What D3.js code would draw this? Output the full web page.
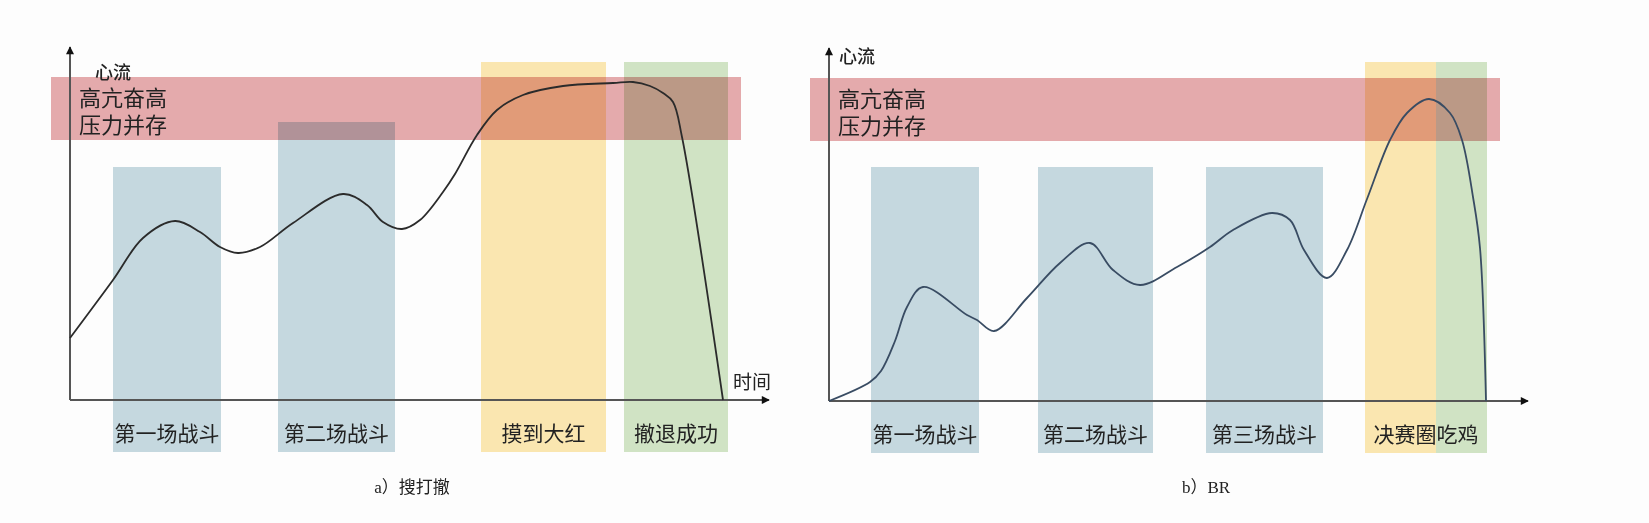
<!DOCTYPE html>
<html><head><meta charset="utf-8">
<script src="https://cdn.jsdelivr.net/npm/d3@7"></script>
<style>body{margin:0;background:#fdfdfd} svg{display:block}</style>
</head><body><svg id="c" width="1649" height="523"></svg>
<script>
// ---- data (time units along x, flow units along y) ----
const leftCurve = [[0,62],[43,120],[73,162],[105,179],[130,168],[150,153],[168,147],[190,153],[223,177],[273,206],[297,195],[313,178],[332,171],[350,180],[373,208],[385,226],[407,265],[427,290],[453,305],[493,314],[543,317],[563,318],[580,314],[593,307],[603,298],[612,263],[653,0]];
const rightCurve = [[0,0],[41,19],[52,30],[66,60],[78,94],[94,114],[138,86],[148,81],[165,70],[198,103],[231,138],[261,158],[284,131],[311,116],[348,134],[381,154],[404,171],[443,188],[461,181],[475,151],[498,123],[518,151],[538,202],[561,261],[578,288],[600,302],[621,288],[633,261],[644,204],[651,153],[657,0]];

const leftZones = [
  {kind:"fight", x0:43,  x1:151, top:233},
  {kind:"fight", x0:208, x1:325, top:278},
  {kind:"loot",  x0:411, x1:536, top:338},
  {kind:"win",   x0:554, x1:658, top:338}
];
const rightZones = [
  {kind:"fight", x0:42,  x1:150, top:234},
  {kind:"fight", x0:209, x1:324, top:234},
  {kind:"fight", x0:377, x1:494, top:234},
  {kind:"loot",  x0:536, x1:607, top:339},
  {kind:"win",   x0:607, x1:658, top:339}
];
const leftLabels = [
  {text:"第一场战斗", x0:43,  x1:151},
  {text:"第二场战斗", x0:208, x1:325},
  {text:"摸到大红",   x0:411, x1:536},
  {text:"撤退成功",   x0:554, x1:658}
];
const rightLabels = [
  {text:"第一场战斗", x0:42,  x1:150},
  {text:"第二场战斗", x0:209, x1:324},
  {text:"第三场战斗", x0:377, x1:494},
  {text:"决赛圈吃鸡", x0:536, x1:658}
];
const stressBand = [260, 323];      // flow range of the "高亢奋高 / 压力并存" band
const bandExtent = [-19, 671];     // time extent of that band
const zoneBottom = -52;
const bandText = ["高亢奋高", "压力并存"];
const yTitle = "心流";
const xTitle = "时间";
const captions = ["a）搜打撤", "b）BR"];

const zoneColor = {fight:"#c5d8df", loot:"#fae6b0", win:"#d0e3c4"};
const svg = d3.select("#c");

const defs = svg.append("defs");
defs.append("marker").attr("id","arrow").attr("viewBox","0 0 10 10")
  .attr("refX",9).attr("refY",5).attr("markerWidth",9).attr("markerHeight",8)
  .attr("markerUnits","userSpaceOnUse").attr("orient","auto-start-reverse")
  .append("path").attr("d","M0,0L10,5L0,10Z").attr("fill","#111");

function panel(cfg){
  const g = svg.append("g");
  const x = d3.scaleLinear().domain([0,700]).range([cfg.ox, cfg.ox+700]);
  const y = d3.scaleLinear().domain([0,353]).range([cfg.oy, cfg.oy-353]);
  const font = "'Noto Sans CJK SC','Noto Sans',sans-serif";
  const tightFont = "'Liberation Sans','Noto Sans CJK SC',sans-serif";
  // zones
  g.selectAll("rect.zone").data(cfg.zones).join("rect").attr("class","zone")
    .attr("x",d=>x(d.x0)).attr("width",d=>x(d.x1)-x(d.x0))
    .attr("y",d=>y(d.top)).attr("height",d=>y(zoneBottom)-y(d.top))
    .attr("fill",d=>zoneColor[d.kind]);
  // stress band (multiply over zones)
  g.append("rect").attr("x",x(bandExtent[0])).attr("width",x(bandExtent[1])-x(bandExtent[0]))
    .attr("y",y(stressBand[1])).attr("height",y(stressBand[0])-y(stressBand[1]))
    .attr("fill","#e6acae").style("mix-blend-mode","multiply");
  // axes
  const xa = g.append("g").attr("transform",`translate(0,${cfg.oy})`)
    .call(d3.axisBottom(x).tickValues([]).tickSizeOuter(0));
  xa.select(".domain").attr("stroke","#555").attr("stroke-width",2).attr("marker-end","url(#arrow)")
    .attr("d",`M${x(0)},0H${x(699)}`);
  const ya = g.append("g").attr("transform",`translate(${cfg.ox},0)`)
    .call(d3.axisLeft(y).tickValues([]).tickSizeOuter(0));
  ya.select(".domain").attr("stroke","#555").attr("stroke-width",2).attr("marker-end","url(#arrow)")
    .attr("d",`M0,${y(0)}V${y(353)}`);
  // curve
  const line = d3.line().x(d=>x(d[0])).y(d=>y(d[1])).curve(d3.curveCatmullRom.alpha(0.5));
  g.append("path").datum(cfg.curve).attr("d",line).attr("fill","none")
    .attr("stroke",cfg.stroke).attr("stroke-width",1.8).attr("stroke-linejoin","round");
  // y title + band text
  g.append("text").attr("x",cfg.ytx).attr("y",cfg.yty).attr("dy","0.35em").text(yTitle)
    .attr("font-family",tightFont).attr("fill","#222").attr("font-size",18).attr("font-weight",500);
  bandText.forEach((s,i)=>{
    g.append("text").attr("x",cfg.ox+9).attr("y",y(stressBand[1])+21+i*27).attr("dy","0.35em")
      .attr("font-family",tightFont).attr("fill","#222").attr("font-size",22).text(s);
  });
  g.selectAll("text.lab").data(cfg.labels).join("text").attr("class","lab")
    .attr("x",d=>x((d.x0+d.x1)/2)).attr("y",y(-32)).text(d=>d.text)
    .attr("text-anchor","middle").attr("dominant-baseline","central")
    .attr("font-family",font).attr("font-size",21).attr("fill","#222");
  if(cfg.xTitle){
    g.append("text").attr("x",x(682)).attr("y",y(20)).text(xTitle).attr("text-anchor","middle")
      .attr("dominant-baseline","central").attr("font-family",font).attr("font-size",19).attr("fill","#222");
  }
  g.append("text").attr("x",cfg.capx).attr("y",487).text(cfg.caption)
    .attr("text-anchor","middle").attr("dominant-baseline","central")
    .attr("font-family","'Liberation Serif','Noto Sans CJK SC',serif").attr("font-size",17).attr("fill","#222");
}

panel({ox:70, oy:400, zones:leftZones, labels:leftLabels, curve:leftCurve, stroke:"#2b2b2b",
  ytx:95, yty:73, xTitle:true, caption:captions[0], capx:412});
panel({ox:829, oy:401, zones:rightZones, labels:rightLabels, curve:rightCurve, stroke:"#394c63",
  ytx:839, yty:57, xTitle:false, caption:captions[1], capx:1206});
</script></body></html>
